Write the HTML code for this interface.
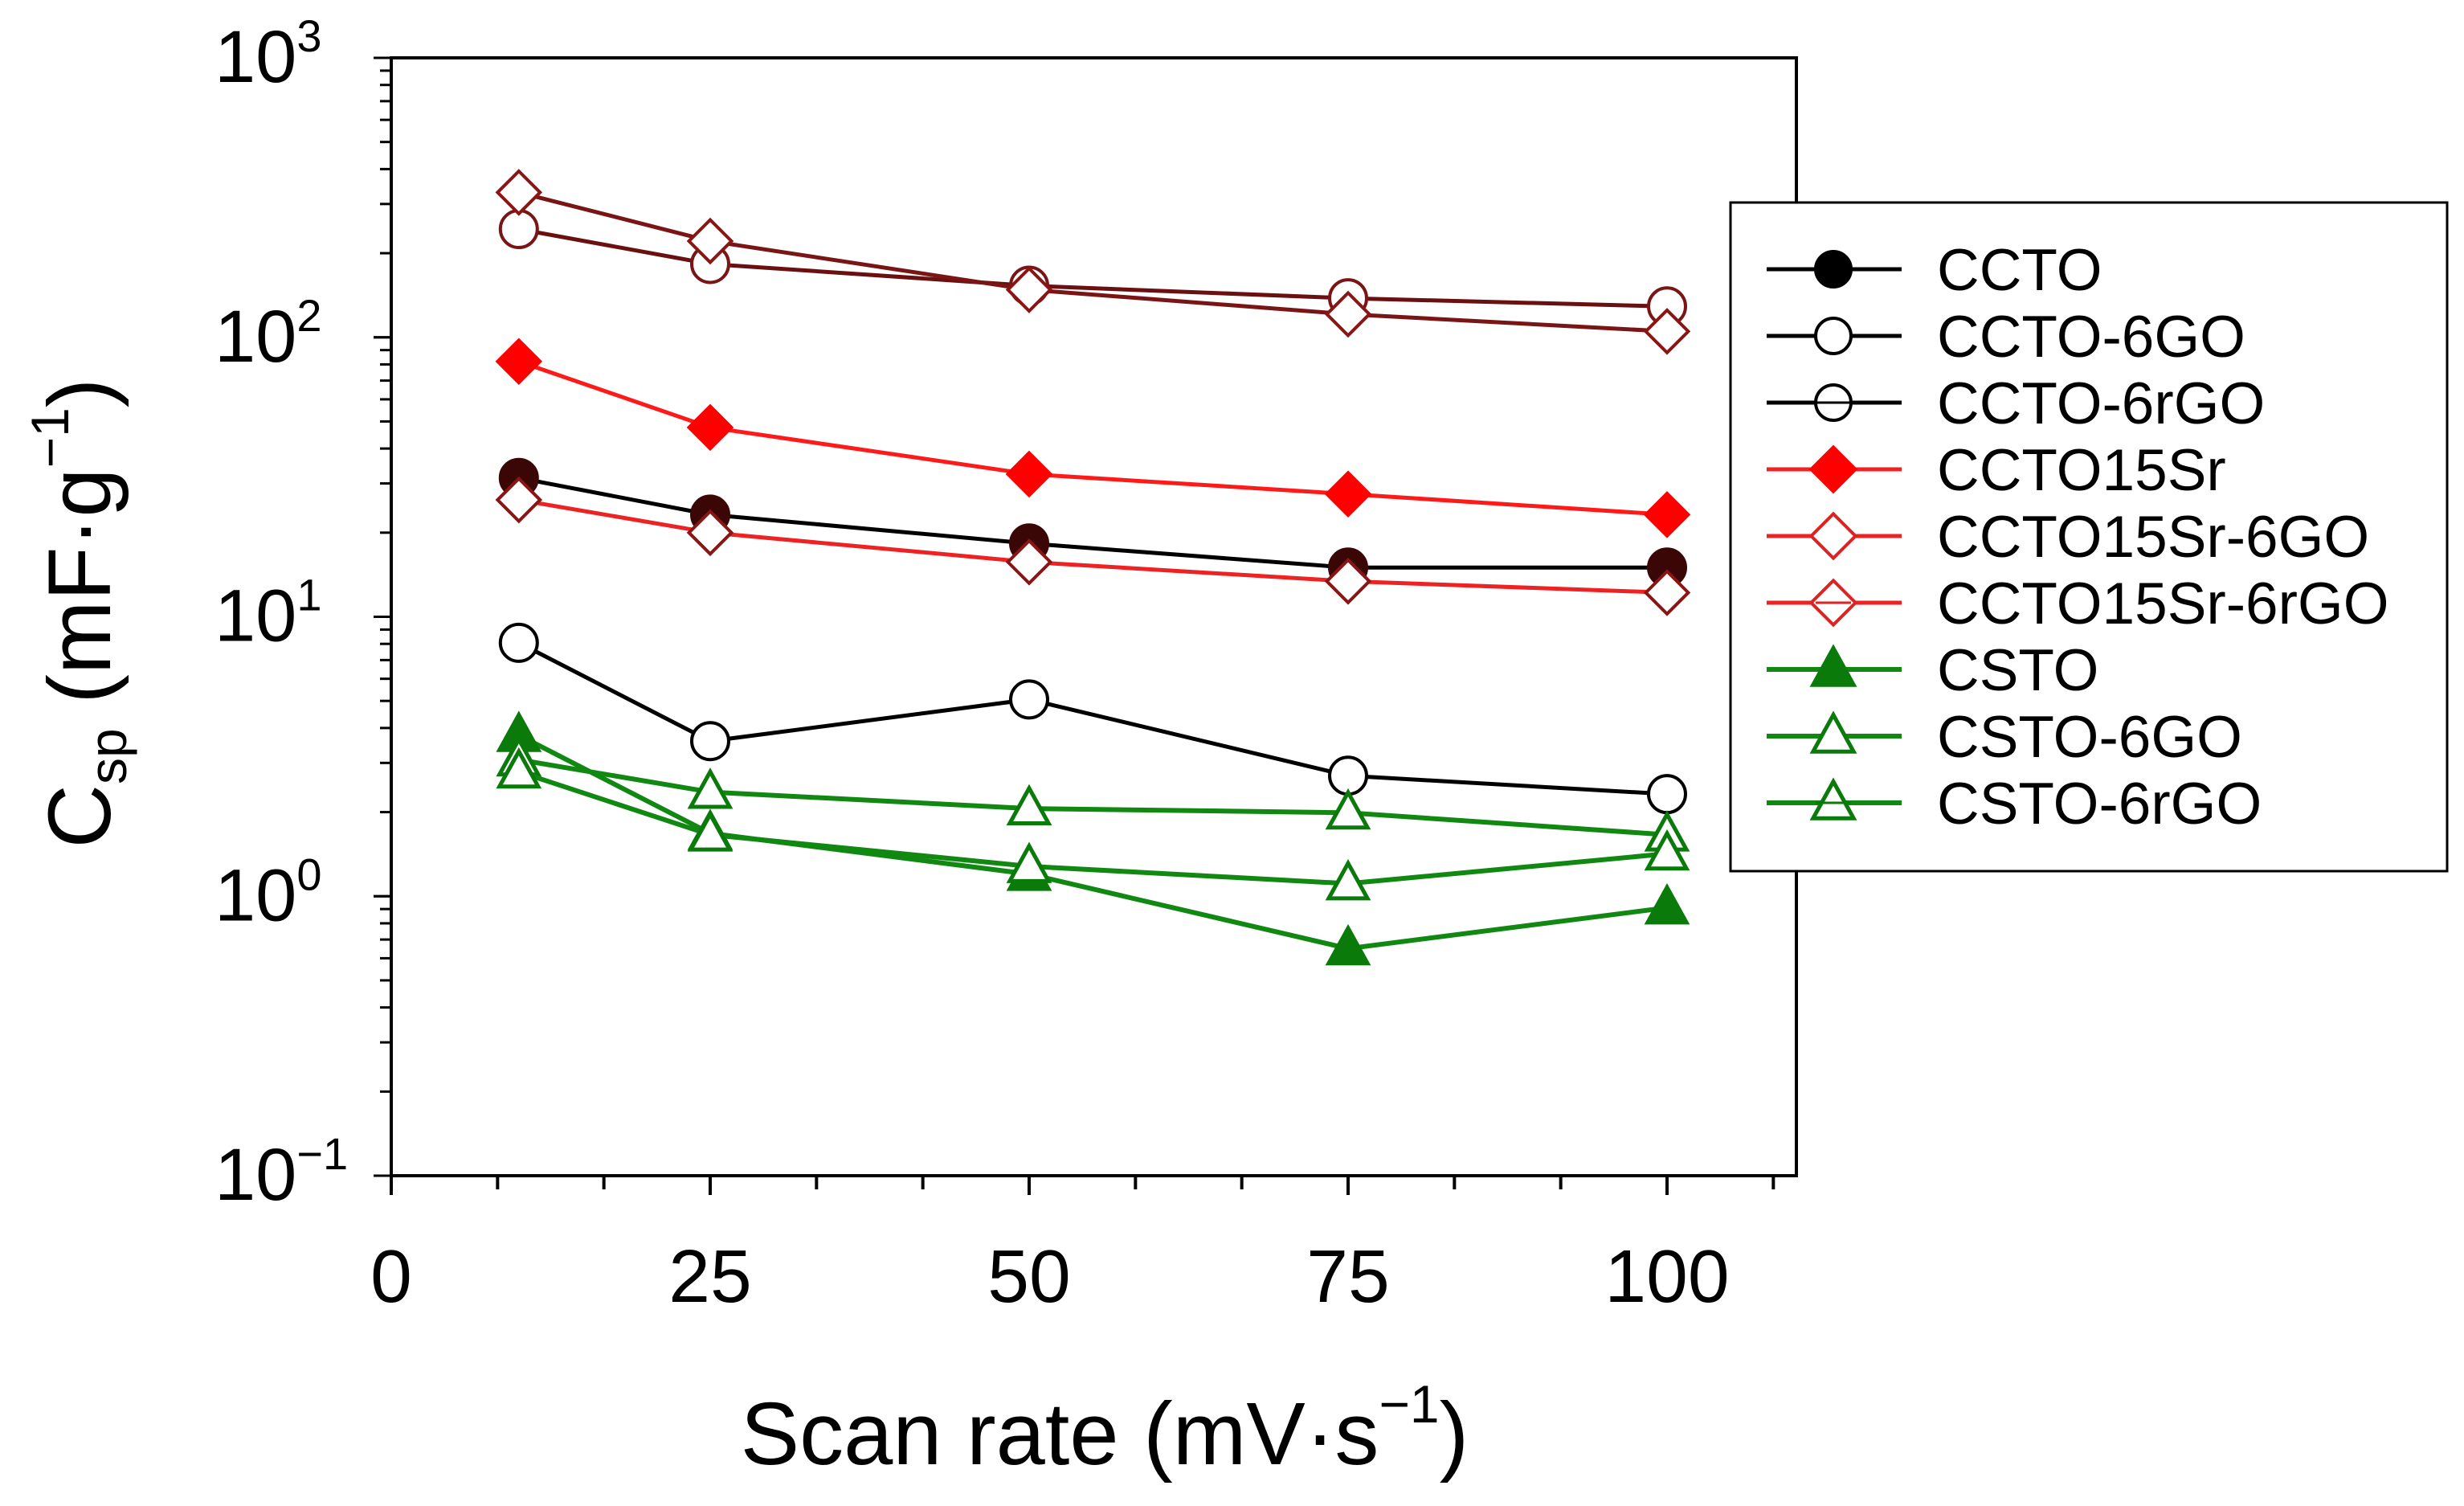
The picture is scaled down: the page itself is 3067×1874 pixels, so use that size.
<!DOCTYPE html>
<html><head><meta charset="utf-8"><style>
html,body{margin:0;padding:0;background:#fff;}
svg{display:block;font-family:"Liberation Sans",Arial,sans-serif;}
</style></head><body>
<svg id="chart" width="3067" height="1874" viewBox="0 0 3067 1874" xmlns="http://www.w3.org/2000/svg">
<g id="axes"></g>
<g id="series"></g>
<g id="legend"></g>
<text x="1375" y="1822" font-size="110" text-anchor="middle">Scan rate (mV·s<tspan font-size="66" dy="-52">−1</tspan><tspan dy="52">)</tspan></text>
<text transform="translate(137,763) rotate(-90)" font-size="110" text-anchor="middle">C<tspan font-size="66" dy="20">sp</tspan><tspan dy="-20"> (mF·g</tspan><tspan font-size="66" dy="-52">−1</tspan><tspan dy="52">)</tspan></text>
</svg>
<script>
const scanRates = [10, 25, 50, 75, 100];
const seriesNames = ["CCTO","CCTO-6GO","CCTO-6rGO","CCTO15Sr","CCTO15Sr-6GO","CCTO15Sr-6rGO","CSTO","CSTO-6GO","CSTO-6rGO"];
const ccto = [31.4, 23.2, 18.3, 15.0, 15.0];
const ccto6GO = [8.07, 3.59, 5.06, 2.70, 2.32];
const ccto6rGO = [244, 183, 153, 138, 129];
const ccto15Sr = [82, 47.6, 32.4, 27.5, 23.2];
const ccto15Sr6GO = [330, 221, 148, 121, 105];
const ccto15Sr6rGO = [26.2, 20.0, 15.7, 13.4, 12.2];
const csto = [3.77, 1.68, 1.20, 0.65, 0.91];
const csto6GO = [3.08, 2.36, 2.06, 1.99, 1.66];
const csto6rGO = [2.79, 1.66, 1.28, 1.11, 1.42];
const xTicks = [0, 25, 50, 75, 100];
const yTickExp = ["3", "2", "1", "0", "-1"];

const NS = "http://www.w3.org/2000/svg";
const X0 = 487, X1 = 2236, Y0 = 72, Y1 = 1463;
function xs(v){ return X0 + v * (2075 - 487) / 100; }
function ys(v){ return Y0 + (3 - Math.log10(v)) * (Y1 - Y0) / 4; }
function mk(tag, attrs, parent){
  const e = document.createElementNS(NS, tag);
  for (const k in attrs) e.setAttribute(k, attrs[k]);
  parent.appendChild(e); return e;
}
const axes = document.getElementById('axes');
const frame = mk('rect', {x:X0, y:Y0, width:X1-X0, height:Y1-Y0, fill:'none', stroke:'#000', 'stroke-width':4}, axes);


for (let i = 0; i * 25/3 <= 110; i++) {
  const v = i * 25/3, major = i % 3 === 0;
  const t = mk('line', {x1:xs(v), x2:xs(v), y1:Y1, y2:Y1 + (major ? 24 : 17), stroke:'#000', 'stroke-width':4}, axes);
  
  
}
xTicks.forEach(v => {
  const t = mk('text', {x:xs(v), y:1620, 'font-size':93, 'text-anchor':'middle'}, axes);
  t.textContent = String(v);
  
  
});
for (let d = -1; d < 3; d++) {
  for (let m = 1; m <= 10; m++) {
    const v = m * Math.pow(10, d), y = ys(v);
    const major = (m === 1 || m === 10);
    const t = mk('line', {x1:X0 - (major ? 22 : 14), x2:X0, y1:y, y2:y, stroke:'#000', 'stroke-width':3}, axes);
    
    
  }
}
yTickExp.forEach(e => {
  const y = ys(Math.pow(10, Number(e)));
  const t = mk('text', {x:267, y:y + 30, 'font-size':92}, axes);
  t.textContent = "10";
  const s = mk('tspan', {'font-size':56, dy:-38}, t);
  s.textContent = e.replace('-', '−');
  
  
});

const styles = [
  {data:ccto, line:'#000', m:'circle', fill:'#3a0606', stroke:'#3a0606', leg:'#000', legFill:'#000'},
  {data:ccto6GO, line:'#000', m:'circle', fill:'#fff', stroke:'#000'},
  {data:ccto6rGO, line:'#6b1010', m:'circle', fill:'#fff', stroke:'#7a1515', bar:true, leg:'#000'},
  {data:ccto15Sr, line:'#ff1a1a', m:'diamond', fill:'#ff0000', stroke:'#ff0000'},
  {data:ccto15Sr6GO, line:'#7a1515', m:'diamond', fill:'#fff', stroke:'#8a1515', leg:'#dd2222', legLine:'#ee2222'},
  {data:ccto15Sr6rGO, line:'#ee2222', m:'diamond', fill:'#fff', stroke:'#8a1515', bar:true, leg:'#dd2222'},
  {data:csto, line:'#118811', m:'tri', fill:'#0a7a0a', stroke:'#0a7a0a'},
  {data:csto6GO, line:'#118811', m:'tri', fill:'#fff', stroke:'#0a7a0a'},
  {data:csto6rGO, line:'#118811', m:'tri', fill:'#fff', stroke:'#0a7a0a', bar:true}
];
function marker(g, st, cx, cy, r, col, fillCol){
  const stroke = col || st.stroke, fill = fillCol || st.fill;
  let e;
  if (st.m === 'circle') e = mk('circle', {cx, cy, r, fill, stroke, 'stroke-width':4}, g);
  else if (st.m === 'diamond') e = mk('polygon', {points:`${cx},${cy-r*1.15} ${cx+r*1.15},${cy} ${cx},${cy+r*1.15} ${cx-r*1.15},${cy}`, fill, stroke, 'stroke-width':4}, g);
  else e = mk('polygon', {points:`${cx},${cy-r*1.1} ${cx+r*1.05},${cy+r*0.8} ${cx-r*1.05},${cy+r*0.8}`, fill, stroke, 'stroke-width':5}, g);
  return e;
}
const sg = document.getElementById('series');
styles.forEach((st, i) => {
  const g = mk('g', {}, sg);
  
  
  const pts = st.data.map((v, j) => xs(scanRates[j]) + ',' + ys(v)).join(' ');
  const pl = mk('polyline', {points:pts, fill:'none', stroke:st.line, 'stroke-width':st.m === 'tri' ? 6 : 5}, g);
  
  
  st.data.forEach((v, j) => {
    const m = marker(g, st, xs(scanRates[j]), ys(v), 23);
    
    
  });
});

const lg = document.getElementById('legend');
const box = mk('rect', {x:2154, y:252, width:892, height:832, fill:'#fff', stroke:'#000', 'stroke-width':3}, lg);


styles.forEach((st, i) => {
  const y = 335 + i * 83;
  const g = mk('g', {}, lg);
  
  
  const lineCol = st.m === 'diamond' ? '#ee2222' : (st.leg || st.line);
  mk('line', {x1:2199, x2:2367, y1:y, y2:y, stroke:lineCol, 'stroke-width':st.m === 'tri' ? 6 : 5}, g);
  marker(g, st, 2282, y, st.m === 'circle' ? 22 : 24, st.leg, st.legFill);
  if (st.bar) mk('line', {x1:2260, x2:2304, y1:y, y2:y, stroke:st.leg || st.stroke, 'stroke-width':3}, g);
  const t = mk('text', {x:2411, y:y + 26, 'font-size':73}, g);
  t.textContent = seriesNames[i];
});
</script>
</body></html>
